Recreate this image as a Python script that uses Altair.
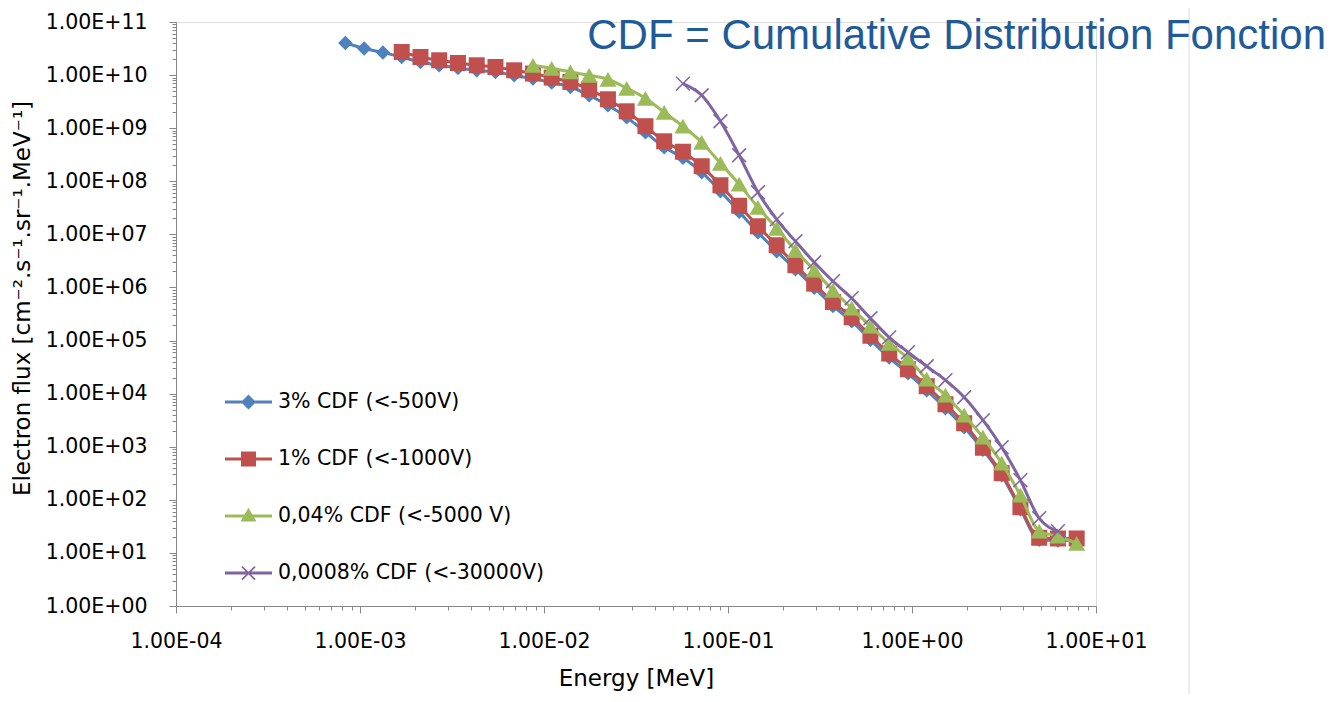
import altair as alt
import pandas as pd

# Energy grid [MeV]
energy = [8.33e-4, 1.054e-3, 1.332e-3, 1.685e-3, 2.131e-3, 2.694e-3, 3.407e-3, 4.309e-3,
          5.447e-3, 6.887e-3, 8.708e-3, 1.101e-2, 1.392e-2, 1.760e-2, 2.226e-2, 2.814e-2,
          3.558e-2, 4.499e-2, 5.689e-2, 7.194e-2, 9.096e-2, 0.1150, 0.1454, 0.1839,
          0.2325, 0.2940, 0.3718, 0.4701, 0.5944, 0.7516, 0.9504, 1.202, 1.520, 1.921,
          2.429, 3.072, 3.884, 4.911, 6.210, 7.852]

# Electron flux [cm-2.s-1.sr-1.MeV-1]
flux_3pct = [4.02e10, 3.16e10, 2.65e10, 2.19e10, 1.76e10, 1.53e10, 1.36e10, 1.23e10,
             1.14e10, 9.90e9, 8.61e9, 7.23e9, 5.97e9, 4.16e9, 2.70e9, 1.60e9, 8.40e8,
             4.36e8, 2.78e8, 1.48e8, 6.48e7, 2.67e7, 1.09e7, 4.81e6, 2.20e6, 9.92e5,
             4.48e5, 2.31e5, 1.03e5, 4.79e4, 2.42e4, 1.16e4, 5.31e3, 2.33e3, 8.77e2,
             2.90e2, 6.64e1, 1.77e1, 1.71e1, 1.71e1]
flux_1pct = [2.72e10, 2.19e10, 1.90e10, 1.69e10, 1.53e10, 1.42e10, 1.23e10, 1.07e10,
             8.98e9, 7.41e9, 5.40e9, 3.50e9, 2.08e9, 1.09e9, 5.66e8, 3.60e8, 1.92e8,
             8.41e7, 3.46e7, 1.42e7, 6.24e6, 2.62e6, 1.18e6, 5.33e5, 2.75e5, 1.23e5,
             5.69e4, 2.88e4, 1.38e4, 6.31e3, 2.77e3, 9.57e2, 3.17e2, 7.25e1, 1.93e1,
             1.87e1, 1.87e1]
flux_004pct = [1.53e10, 1.34e10, 1.15e10, 9.91e9, 8.34e9, 5.64e9, 3.66e9, 1.99e9, 1.09e9,
               5.42e8, 2.18e8, 8.79e7, 3.24e7, 1.30e7, 5.02e6, 2.11e6, 8.85e5, 4.06e5,
               1.86e5, 8.89e4, 4.65e4, 1.87e4, 9.33e3, 3.92e3, 1.51e3, 4.89e2, 1.22e2,
               2.56e1, 2.06e1, 1.52e1]
flux_00008pct = [6.92e9, 4.17e9, 1.35e9, 3.09e8, 6.21e7, 1.92e7, 7.41e6, 2.98e6, 1.31e6,
                 6.27e5, 2.63e5, 1.15e5, 6.03e4, 3.28e4, 1.79e4, 8.55e3, 3.16e3, 9.79e2,
                 2.34e2, 4.50e1, 2.56e1]

names = ["3% CDF (<-500V)", "1% CDF (<-1000V)", "0,04% CDF (<-5000 V)", "0,0008% CDF (<-30000V)"]
colors = ["#4F81BD", "#C0504D", "#9BBB59", "#8064A2"]
title_text = "CDF = Cumulative Distribution Fonction"

x_major = [1e-4, 1e-3, 1e-2, 1e-1, 1e0, 1e1]
y_major = [1e0, 1e1, 1e2, 1e3, 1e4, 1e5, 1e6, 1e7, 1e8, 1e9, 1e10, 1e11]
x_ticks = x_major + [m * d for d in x_major[:-1] for m in range(2, 10)]
y_ticks = y_major + [m * d for d in y_major[:-1] for m in range(2, 10)]

rows = []
series_energy = [energy, energy[3:], energy[10:], energy[18:39]]
series_flux = [flux_3pct, flux_1pct, flux_004pct, flux_00008pct]
for name, es, fs in zip(names, series_energy, series_flux):
    rows += [{"series": name, "energy": e, "flux": f} for e, f in zip(es, fs)]
df = pd.DataFrame(rows)

# --- axis helpers: decade labels as 1.00E+XX, short minor ticks
is_major = "abs(log(datum.value)/LN10 - round(log(datum.value)/LN10)) < 1e-6"
expo = "round(log(datum.value)/LN10)"
label_expr = (f"({is_major}) ? '1.00E' + ({expo} < 0 ? '-' : '+') + "
              f"(abs({expo}) < 10 ? '0' : '') + abs({expo}) : ''")
tick_size = {"condition": {"test": is_major, "value": 7}, "value": 4}

axis_style = dict(
    labelExpr=label_expr, tickSize=tick_size, grid=False, labelOverlap=False,
    labelFlush=False, labelFont="DejaVu Sans", labelFontSize=20.5, labelColor="#000000",
    domainColor="#868686", tickColor="#868686", domainWidth=1, tickWidth=1,
    titleFont="DejaVu Sans", titleFontSize=23, titleFontWeight="normal", titleColor="#000000",
)

x_enc = alt.X("energy:Q", scale=alt.Scale(type="log", domain=[1e-4, 10], nice=False),
              axis=alt.Axis(values=x_ticks, title="Energy [MeV]", labelPadding=18,
                            titleX=460, titleY=72, titleBaseline="middle", **axis_style))
y_enc = alt.Y("flux:Q", scale=alt.Scale(type="log", domain=[1, 1e11], nice=False),
              axis=alt.Axis(values=y_ticks, title="Electron flux [cm⁻².s⁻¹.sr⁻¹.MeV⁻¹]",
                            labelPadding=22, titleAngle=270, titleX=-154, titleY=276,
                            titleBaseline="middle", titleAlign="center", **axis_style))

base = alt.Chart(df).encode(x=x_enc, y=y_enc)

marker = {
    names[0]: dict(shape="diamond", filled=True, size=210),
    names[1]: dict(shape="square", filled=True, size=256),
    names[2]: dict(shape="triangle-up", filled=True, size=290),
    names[3]: dict(shape="M-1,-1L1,1M-1,1L1,-1", filled=False, size=190, strokeWidth=1.5),
}

layers = []
for name, col in zip(names, colors):
    sub = base.transform_filter(alt.datum.series == name)
    layers.append(sub.mark_line(color=col, strokeWidth=3, interpolate="monotone"))
    layers.append(sub.mark_point(color=col, opacity=1, **marker[name]))

# legend entries: line sample with marker in the middle (Excel style)
bar = "M-1,-0.06L0.88,-0.06L0.88,0.06L-1,0.06Z "
legend_paths = [
    bar + "M-0.06,-0.3L0.24,0L-0.06,0.3L-0.36,0Z",
    bar + "M-0.36,-0.3L0.24,-0.3L0.24,0.3L-0.36,0.3Z",
    bar + "M-0.06,-0.33L0.26,0.22L-0.38,0.22Z",
    bar + "M-0.295,-0.285L0.225,0.235L0.175,0.285L-0.345,-0.235Z "
          "M0.175,-0.285L0.225,-0.235L-0.295,0.285L-0.345,0.235Z",
]
legend = alt.Legend(
    title=None, orient="none", legendX=49, legendY=355, padding=0, rowPadding=21,
    symbolSize=2500, symbolStrokeWidth=0, labelFont="DejaVu Sans", labelFontSize=20.5,
    labelColor="#000000", labelOffset=3, labelLimit=500,
)
legend_layer = base.transform_filter("false").mark_point(filled=True, opacity=1).encode(
    color=alt.Color("series:N", scale=alt.Scale(domain=names, range=colors), legend=legend),
    shape=alt.Shape("series:N", scale=alt.Scale(domain=names, range=legend_paths), legend=legend),
)

one_row = pd.DataFrame({"k": [0]})

# right border of the original chart frame
frame_line = alt.Chart(one_row).mark_rule(color="#D9D9D9", strokeWidth=1).encode(
    x=alt.value(1013), y=alt.value(-14), y2=alt.value(672)
)

# slide caption placed over the top right of the chart
caption = alt.Chart(one_row).mark_text(
    text=title_text, font="Liberation Sans", fontSize=42, color="#1F5A99",
    align="right", baseline="alphabetic",
).encode(x=alt.value(1150), y=alt.value(27))

chart = alt.layer(*layers, legend_layer, frame_line, caption).properties(
    width=920,
    height=584,
    autosize=alt.AutoSizeParams(type="none"),
    padding={"left": 168, "top": 14, "right": 232, "bottom": 88},
).configure_view(strokeWidth=0).configure(background="white")

chart.save("out.html", embed_options={"renderer": "svg", "actions": False})
